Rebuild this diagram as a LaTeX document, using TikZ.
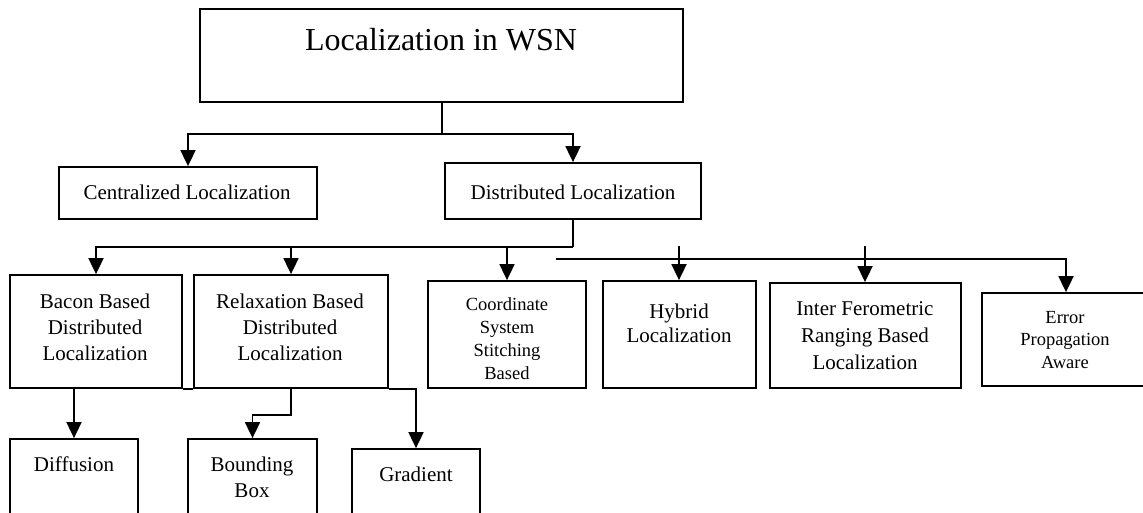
\documentclass[tikz,border=0pt]{standalone}
\usepackage{fontspec}
\setmainfont{Liberation Serif}
\usetikzlibrary{arrows.meta}
\begin{document}
\begin{tikzpicture}[x=1pt,y=-1pt,
  box/.style={draw, line width=1.8pt, inner sep=0pt, minimum width=#1},
  txt/.style={inner sep=0pt, align=center, font=\fontsize{21}{26}\selectfont},
  stxt/.style={inner sep=0pt, align=center, font=\fontsize{18.5}{23}\selectfont},
  wire/.style={line width=1.8pt},
  arr/.style={wire, -{Triangle[width=15pt,length=16pt]}}]
\useasboundingbox (0,0) rectangle (1143,512);
\clip (0,0) rectangle (1143,512);
% boxes
\node[box=483pt, minimum height=93pt] (top) at (441.5,55.5) {};
\node[box=258pt, minimum height=52pt] (cent) at (188,193) {};
\node[box=256pt, minimum height=56pt] (dist) at (573,191) {};
\node[box=172pt, minimum height=113pt] (bacon) at (96,331.5) {};
\node[box=194pt, minimum height=113pt] (relax) at (291,331.5) {};
\node[box=158pt, minimum height=107pt] (coord) at (507,334.5) {};
\node[box=153pt, minimum height=107pt] (hybrid) at (679.5,334.5) {};
\node[box=191pt, minimum height=105pt] (inter) at (865.5,335.5) {};
\node[box=168pt, minimum height=93pt] (error) at (1066,339.5) {};
\node[box=128pt, minimum height=91pt] (diff) at (74,484.5) {};
\node[box=129pt, minimum height=91pt] (bound) at (252.5,484.5) {};
\node[box=128pt, minimum height=81pt] (grad) at (416,489.5) {};
% texts
\node[inner sep=0pt, font=\fontsize{32}{38}\selectfont] (topT) at (441,40) {Localization in WSN};
\node[txt] (centT) at (187,192) {Centralized Localization};
\node[txt] (distT) at (573,192) {Distributed Localization};
\node[txt] (baconT) at (95,327) {Bacon Based\\Distributed\\Localization};
\node[txt] (relaxT) at (290,327) {Relaxation Based\\Distributed\\Localization};
\node[stxt] (coordT) at (507,339) {Coordinate\\System\\Stitching\\Based};
\node[txt, font=\fontsize{21}{24}\selectfont] (hybridT) at (679,323) {Hybrid\\Localization};
\node[txt, font=\fontsize{21}{27}\selectfont] (interT) at (865,336) {Inter Ferometric\\Ranging Based\\Localization};
\node[stxt, font=\fontsize{18.5}{22.5}\selectfont] (errorT) at (1065,340) {Error\\Propagation\\Aware};
\node[txt] (diffT) at (74,464) {Diffusion};
\node[txt] (boundT) at (252,477) {Bounding\\Box};
\node[txt] (gradT) at (416,474) {Gradient};
% connectors
\coordinate (j1) at (442,134);
\draw[wire] (j1 |- top.south) -- (j1);
\draw[arr] (j1) -| (cent.north);
\draw[arr] (j1) -| (dist.north);
\coordinate (j2) at (573,247);
\draw[wire] (dist.south) -- (j2);
\draw[arr] (j2) -| (bacon.north);
\draw[arr] (j2) -| (relax.north);
\draw[arr] (coord.north |- j2) -- (coord.north);
\coordinate (r1) at (556,259);
\draw[arr] (r1) -| (error.north);
\coordinate (h0) at (679,246);
\coordinate (i0) at (865,246);
\draw[arr] (h0) -- (h0 |- hybrid.north);
\draw[arr] (i0) -- (i0 |- inter.north);
\draw[arr] (diff.north |- bacon.south) -- (diff.north);
\draw[wire] (bacon.south east) -- (relax.south west);
\draw[arr] (relax.south) -- ++(0,26) -| (bound.north);
\draw[arr] (relax.south east) -| (grad.north);
\end{tikzpicture}
\end{document}
